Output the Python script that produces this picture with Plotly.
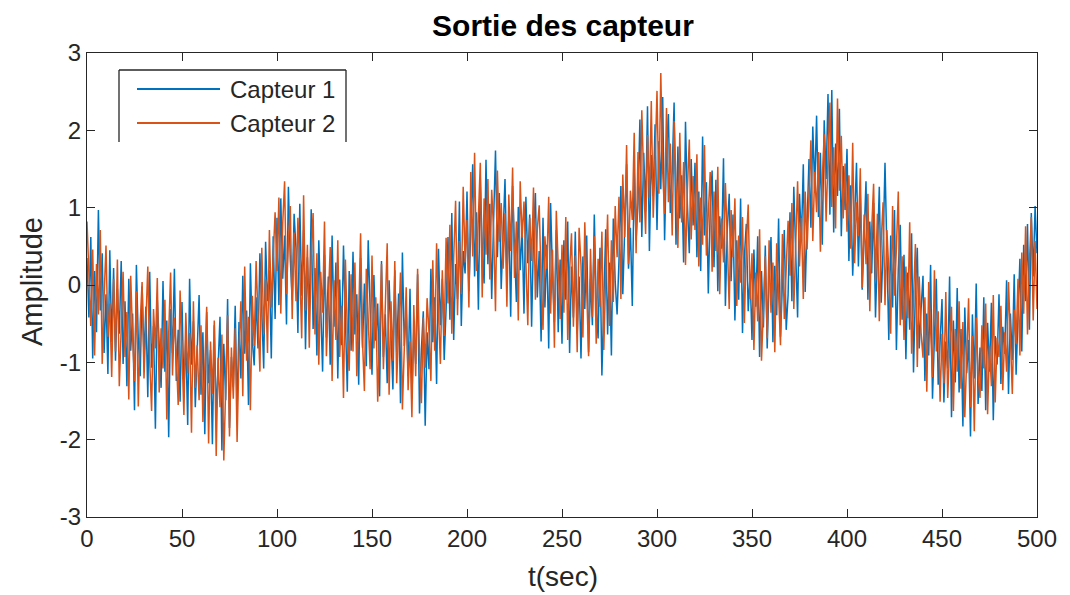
import plotly.graph_objects as go

capteur1 = [
    0.35, -0.42, 0.62, -0.95, 0.18, -0.61, 0.97, -0.33, 0.41, -0.88,
    -0.12, -1.15, 0.45, -0.74, 0.22, -0.98, -0.05, -0.63, 0.31, -1.02,
    -0.21, -1.31, 0.08, -0.85, -0.37, -1.62, 0.26, -0.71, -1.18, -0.02,
    -0.94, -0.28, -1.45, 0.17, -1.07, -0.53, -1.86, -0.19, -0.77, -1.33,
    0.05, -1.12, -0.46, -1.97, -0.31, -0.88, 0.21, -1.24, -0.58, -1.51,
    -0.22, -1.36, -0.69, -1.81, 0.08, -1.03, -0.47, -1.58, -0.84, -0.13,
    -1.42, -0.61, -1.93, -0.35, -1.27, -0.84, -2.06, -0.52, -1.68, -1.11,
    -0.41, -2.14, -0.76, -1.49, -0.18, -1.85, -0.93, -1.32, -0.27, -1.64,
    -0.48, -1.21, 0.12, -0.89, -0.33, -1.55, 0.28, -0.72, -1.04, -0.16,
    -0.82, 0.41, -0.37, -1.08, 0.56, -0.21, 0.19, -0.95, 0.63, -0.44,
    0.87, -0.26, 1.12, 0.08, 0.64, -0.51, 1.27, 0.33, -0.19, 0.92,
    0.47, -0.62, 1.05, -0.14, 0.71, -0.83, 0.36, -0.38, 0.98, -0.57,
    0.22, -0.91, 0.58, -0.47, -1.12, 0.39, -0.68, 0.11, -1.03, 0.64,
    -0.54, 0.29, -1.21, 0.07, -0.78, 0.51, -0.36, -1.38, 0.18, -0.85,
    0.43, -0.64, -0.12, -1.29, 0.35, -0.81, 0.02, -1.05, 0.58, -0.49,
    -1.16, 0.13, -0.72, -0.24, -1.44, 0.31, -0.93, -0.38, -1.27, 0.06,
    -0.66, -1.35, 0.19, -0.87, -0.11, -1.53, 0.42, -0.79, -0.29, -1.18,
    -0.05, -1.47, -0.58, -1.02, 0.14, -1.66, -0.83, -0.34, -1.82, -0.61,
    -1.09, 0.21, -0.74, -0.16, -1.28, 0.47, -0.52, 0.08, -0.97, -0.31,
    0.62, -0.45, 0.93, -0.71, 0.27, -0.18, 1.08, -0.53, 0.44, 0.15,
    1.21, -0.08, 0.73, 1.56, 0.11, 0.94, -0.32, 1.38, 0.49, 0.02,
    1.62, 0.27, 1.05, -0.18, 0.83, 1.74, 0.36, 1.19, -0.05, 0.68,
    1.37, 0.12, 0.86, -0.41, 1.28, 0.47, -0.22, 1.01, 0.19, 0.75,
    -0.37, 1.14, 0.28, 0.91, -0.54, 0.63, 1.19, -0.16, 0.44, -0.73,
    0.87, -0.29, 0.52, -0.82, 1.06, 0.14, -0.48, 0.71, -0.61, 0.33,
    -0.76, 0.58, -0.19, 0.82, -0.88, 0.24, -0.42, 0.69, -0.63, 0.11,
    -0.95, 0.37, -0.31, 0.64, -0.87, 0.08, -0.52, 0.91, -0.24, -0.69,
    0.48, -1.17, -0.13, 0.72, -0.64, 0.29, -0.91, 0.86, 0.04, -0.38,
    0.33, 1.28, -0.12, 0.91, 1.56, 0.21, 0.74, -0.27, 1.47, 0.58,
    1.06, 2.14, 0.62, 1.71, 0.95, 2.31, 0.44, 1.68, 1.15, 2.08,
    0.71, 1.86, 1.24, 2.43, 0.58, 1.69, 2.21, 0.93, 1.47, 2.36,
    0.52, 1.79, 0.86, 1.42, 0.29, 2.11, 1.04, 0.41, 1.63, 0.77,
    1.58, 0.36, 1.21, 0.18, 1.92, 0.64, 1.33, -0.11, 0.97, 1.48,
    0.23, 1.36, -0.08, 0.89, 0.47, 1.64, -0.27, 0.72, 1.18, 0.05,
    0.91, -0.46, 0.58, -0.19, 1.12, -0.62, 0.37, 0.79, -0.34, 0.14,
    -0.71, 0.46, -0.28, 0.63, -0.93, 0.18, -0.55, 0.51, -0.82, 0.07,
    0.62, -0.74, 0.25, -0.39, 0.86, -0.67, 0.11, 0.71, -0.58, -0.13,
    0.94, -0.21, 1.27, 0.36, -0.42, 1.18, 0.57, 1.56, -0.09, 0.81,
    1.63, 0.74, 2.05, 1.24, 2.19, 0.88, 1.71, 0.52, 2.13, 1.37,
    2.47, 0.91, 2.52, 0.68, 1.83, 1.15, 2.28, 0.63, 1.54, 0.97,
    1.76, 0.31, 1.29, 0.12, 0.94, 1.58, 0.24, 1.17, -0.06, 0.73,
    1.34, -0.19, 0.82, 0.15, 1.06, -0.42, 0.61, 1.27, -0.23, 0.48,
    1.58, 0.36, -0.71, 0.64, -0.29, 0.97, -0.84, 0.21, 0.78, -0.45,
    0.39, -0.96, 0.16, -0.58, 0.67, -1.13, -0.07, 0.48, -0.82, -0.31,
    0.12, -1.24, -0.37, -0.91, 0.26, -1.47, -0.53, 0.08, -1.29, -0.66,
    -0.18, -1.52, -0.73, -1.08, 0.11, -1.71, -0.46, -1.26, -0.04, -1.39,
    -0.57, -1.83, -0.29, -1.14, -0.71, -1.96, -0.38, -1.21, 0.02, -1.54,
    -0.81, -1.37, -0.16, -1.62, -0.49, -1.12, -0.23, -1.75, -0.66, -1.03,
    -0.12, -1.28, -0.54, -0.89, 0.06, -1.41, -0.37, -0.97, 0.14, -1.16,
    -0.43, 0.34, -0.86, 0.52, -0.21, 0.79, -0.58, 0.93, 0.11, 1.02,
    0.41,
]

capteur2 = [
    0.82, 0.14, -0.53, 0.46, -0.91, 0.27, -0.38, 0.71, -1.02, -0.15,
    0.51, -0.67, -0.24, -1.19, 0.08, -0.86, 0.33, -1.31, -0.42, 0.17,
    -0.93, -0.35, -1.48, 0.12, -0.66, -1.24, -0.08, -1.57, -0.49, 0.04,
    -1.21, -0.47, 0.24, -0.98, -1.63, -0.31, -0.82, 0.09, -1.39, -0.56,
    -1.08, -0.19, -1.74, -0.63, 0.16, -1.17, -0.42, -0.91, -1.55, -0.07,
    -0.99, -1.68, -0.36, -1.14, -0.62, -1.91, -0.21, -1.33, -0.78, -1.49,
    -0.52, -1.77, -1.06, -0.28, -2.05, -0.73, -1.41, -0.46, -2.21, -0.94,
    -1.58, -0.64, -2.27, -1.12, -0.39, -1.96, -0.81, -1.47, -0.56, -2.03,
    -0.87, -0.21, -1.44, 0.24, -0.98, -0.41, -1.62, -0.14, -0.79, 0.31,
    -0.35, -1.12, 0.48, -0.62, 0.07, -0.88, 0.71, -0.29, 0.36, 0.94,
    0.18, 1.13, -0.37, 0.79, 1.34, -0.12, 0.56, 1.02, -0.44, 0.68,
    -0.21, 0.87, 0.24, -0.69, 1.16, -0.33, 0.52, -0.81, 0.39, 0.93,
    -0.64, 0.41, -1.03, 0.17, -0.36, 0.82, -0.92, -0.18, 0.49, -1.24,
    0.06, -0.71, 0.58, -0.93, -0.27, -1.46, 0.33, -0.59, -1.11, 0.14,
    -0.86, 0.29, -1.18, -0.41, 0.67, -0.72, -1.37, 0.21, -0.54, -1.09,
    0.38, -0.82, -0.16, -1.51, -0.63, 0.27, -1.09, -0.34, 0.54, -1.42,
    -0.21, -0.98, 0.31, -1.27, -0.48, 0.16, -1.61, -0.69, -0.03, -1.36,
    -0.73, -1.71, -0.26, -1.18, 0.21, -0.91, -1.53, -0.42, -1.07, -0.17,
    -0.61, -1.24, 0.32, -0.85, 0.54, -0.37, -1.02, 0.19, -0.66, 0.61,
    -0.24, 0.78, -0.63, 0.36, 1.09, -0.39, 0.57, -0.12, 1.27, 0.29,
    0.84, -0.29, 1.46, 0.37, 1.71, 0.18, 0.92, 1.58, -0.16, 1.12,
    0.39, 1.37, 0.07, 1.23, 0.71, -0.34, 1.48, 0.56, 1.06, 0.21,
    0.93, -0.28, 1.17, 0.44, 1.52, 0.09, 0.82, -0.46, 1.34, 0.61,
    1.08, 0.16, -0.52, 0.87, 0.31, 1.26, -0.19, 0.72, 1.03, 0.05,
    -0.58, 0.63, 0.21, 1.14, -0.37, 0.46, -0.81, 0.96, 0.12, -0.44,
    0.52, -0.36, 0.88, -0.71, 0.19, 0.67, -0.54, 0.38, -0.87, 0.74,
    0.26, -0.68, 0.81, -0.17, -0.92, 0.47, -0.41, 0.63, -0.76, 0.34,
    -0.28, 0.69, -0.84, 0.13, 0.91, -0.53, 0.58, -0.22, 1.02, 0.36,
    1.14, -0.18, 1.43, 0.62, 1.81, 0.27, 1.22, 0.84, 1.97, 0.41,
    1.72, 0.81, 2.26, 1.37, 0.66, 1.94, 1.13, 2.38, 0.87, 1.61,
    2.51, 1.18, 2.74, 1.46, 0.92, 2.29, 1.07, 1.83, 0.64, 2.12,
    1.36, 0.48, 1.97, 0.81, 1.59, 0.26, 1.24, 1.88, 0.59, 1.41,
    0.71, 1.69, 0.24, 1.13, 0.52, 1.81, 0.38, 0.99, 1.46, 0.17,
    1.21, 0.44, 1.53, -0.12, 0.86, 0.29, 1.32, 0.58, -0.31, 0.97,
    0.36, 1.12, -0.27, 0.64, 0.03, 0.88, -0.49, 0.52, 1.04, -0.18,
    0.41, -0.84, 0.16, -0.47, 0.72, -0.98, -0.21, 0.37, -0.69, 0.58,
    -0.36, 0.29, -0.87, 0.54, -0.12, -0.78, 0.66, -0.44, 0.21, 0.83,
    0.12, 1.06, -0.31, 0.69, 1.34, 0.24, 0.87, -0.18, 1.21, 0.46,
    1.09, 1.87, 0.57, 1.46, 0.94, 1.72, 0.43, 1.38, 1.95, 0.82,
    1.64, 2.36, 1.01, 1.78, 0.73, 2.41, 1.22, 1.93, 0.86, 1.57,
    0.69, 1.42, 0.47, 1.84, 0.28, 1.07, 0.63, 1.51, -0.04, 0.91,
    0.27, 1.18, -0.34, 0.73, 1.31, 0.06, 0.92, -0.47, 0.58, 1.07,
    -0.26, 0.71, 0.19, -0.63, 1.02, -0.14, 0.48, 1.21, -0.52, 0.37,
    -0.71, 0.24, -0.43, 0.81, -0.89, -0.18, 0.53, -1.06, 0.11, -0.62,
    -0.94, -0.16, -1.38, 0.04, -0.72, -1.19, 0.19, -0.86, -0.34, -1.51,
    -0.63, -1.27, -0.09, -1.46, -0.81, -0.28, -1.63, -0.57, -1.12, -0.21,
    -1.34, -0.48, -1.71, -0.93, -0.17, -1.58, -0.66, -1.89, -0.42, -1.17,
    -1.46, -0.52, -1.08, -0.24, -1.67, -0.79, -1.31, -0.13, -1.52, -0.68,
    -0.93, -0.27, -1.36, -0.61, -1.12, 0.04, -0.84, -1.41, -0.32, -0.76,
    0.08, -0.91, 0.42, -0.37, 0.76, -0.64, 0.29, 0.88, -0.46, 0.57,
    -0.31,
]

t = list(range(len(capteur1)))
t2 = list(range(len(capteur2)))

x_ticks = [0, 50, 100, 150, 200, 250, 300, 350, 400, 450, 500]
y_ticks = [-3, -2, -1, 0, 1, 2, 3]
y_tick_labels = ["-3", "-2", "-1", "0", "1", "2", "3"]
series_names = ["Capteur 1", "Capteur 2"]
colors = ["#0072BD", "#D95319"]

FONT = "Liberation Sans, Arial, Helvetica, sans-serif"
AX = "#262626"

fig = go.Figure()
fig.add_trace(go.Scatter(x=t, y=capteur1, mode="lines", name=series_names[0],
                         line=dict(color=colors[0], width=1.5), showlegend=False))
fig.add_trace(go.Scatter(x=t2, y=capteur2, mode="lines", name=series_names[1],
                         line=dict(color=colors[1], width=1.5), showlegend=False))

axis_common = dict(
    showgrid=False, zeroline=False, showline=True, linecolor=AX, linewidth=1.3,
    mirror="ticks", ticks="inside", ticklen=8, tickwidth=1.3, tickcolor=AX,
    tickfont=dict(family=FONT, size=24, color=AX),
)
fig.update_xaxes(range=[0, 500], tickvals=x_ticks, **axis_common)
fig.update_yaxes(range=[-3, 3], tickvals=y_ticks, ticktext=y_tick_labels, **axis_common)

# plot area in pixels: left 87, right 1037, top 53, bottom 517
L, R, T, B = 87, 1037, 53, 517
def px(x):
    return (x - L) / (R - L)
def py(y):
    return (B - y) / (B - T)

shapes = []
# legend box (top and sides)
box_l, box_r, box_t, box_b = 119, 346, 70, 142
for (x0, y0, x1, y1) in [(box_l, box_t, box_r, box_t), (box_l, box_t, box_l, box_b), (box_r, box_t, box_r, box_b)]:
    shapes.append(dict(type="line", xref="paper", yref="paper", x0=px(x0), y0=py(y0), x1=px(x1), y1=py(y1),
                       line=dict(color=AX, width=1.3)))
legend_rows = [89, 123]
for i, yy in enumerate(legend_rows):
    shapes.append(dict(type="line", xref="paper", yref="paper", x0=px(137), y0=py(yy), x1=px(220), y1=py(yy),
                       line=dict(color=colors[i], width=1.8)))

annotations = []
for i, yy in enumerate(legend_rows):
    annotations.append(dict(text=series_names[i], xref="paper", yref="paper", x=px(228), y=py(yy),
                            xanchor="left", yanchor="middle", showarrow=False,
                            font=dict(family=FONT, size=24, color=AX)))
annotations.append(dict(text="t(sec)", xref="paper", yref="paper", x=px(563), y=py(576),
                        xanchor="center", yanchor="middle", showarrow=False,
                        font=dict(family=FONT, size=28, color=AX)))
annotations.append(dict(text="Amplitude", xref="paper", yref="paper", x=px(32), y=py(282),
                        xanchor="center", yanchor="middle", showarrow=False, textangle=-90,
                        font=dict(family=FONT, size=29, color=AX)))

fig.update_layout(
    width=1070, height=595,
    margin=dict(l=L, r=1070 - R, t=T, b=595 - B),
    paper_bgcolor="white", plot_bgcolor="white",
    title=dict(text="<b>Sortie des capteur</b>", x=563 / 1070, xanchor="center",
               y=1 - 25 / 595, yanchor="middle", yref="container",
               font=dict(family=FONT, size=30, color="#000000")),
    shapes=shapes, annotations=annotations,
)

fig.write_html("out.html")
